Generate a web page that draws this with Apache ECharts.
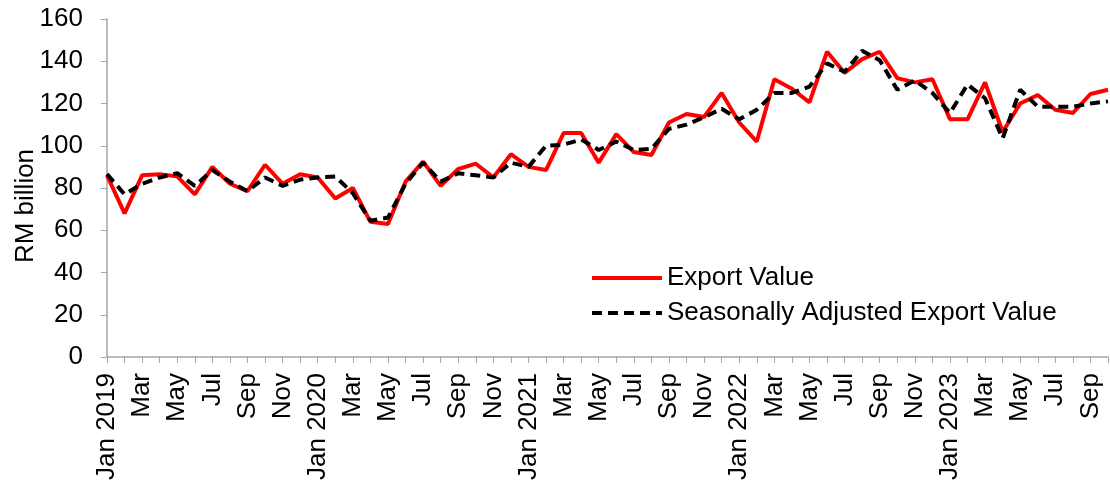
<!DOCTYPE html>
<html>
<head>
<meta charset="utf-8">
<script src="https://cdn.jsdelivr.net/npm/echarts@6/dist/echarts.min.js"></script>
<style>
  html, body { margin: 0; padding: 0; background: #fff; }
  #chart { width: 1110px; height: 483px; }
</style>
</head>
<body>
<div id="chart"></div>
<script>
// months Jan 2019 - Oct 2023
var monthNames = ['Jan', 'Feb', 'Mar', 'Apr', 'May', 'Jun', 'Jul', 'Aug', 'Sep', 'Oct', 'Nov', 'Dec'];
var years = [2019, 2020, 2021, 2022, 2023];
var months = [];
years.forEach(function (y) {
    monthNames.forEach(function (m) {
        months.push(m + ' ' + y);
    });
});
months = months.slice(0, 58);

var exportValue = [
    86, 68, 86, 86.5, 85.5, 77, 90, 82, 78.5, 91, 82, 86.5,
    85, 75, 80, 64, 63, 83, 92.5, 81, 89, 91.5, 85, 96,
    90, 88.5, 106, 106, 92, 105.5, 97, 95.6, 111, 115, 113.6, 125,
    111, 102, 131.5, 127, 120.5, 144.5, 134.5, 141, 144.5, 132, 130, 131.5,
    112.6, 112.5, 130, 106.5, 120, 124, 117, 115.5, 124.5, 126.5
];
var seasonallyAdjusted = [
    86.6, 77, 82, 85, 87, 81, 88.5, 83, 78.5, 85, 81, 84,
    85, 85.5, 77.5, 64.5, 66, 82, 92, 83, 87, 86, 85, 92,
    90, 100, 100.5, 103, 98, 102, 98, 98.5, 108, 110, 113.5, 117.5,
    112.5, 117, 125, 125, 128, 139, 135, 145, 140.5, 126.5, 131, 125,
    115.5, 129, 122.5, 103.5, 126.5, 118.5, 118.5, 118.5, 120, 121
];

var axisGray = '#a6a6a6';
var fontFam = 'Liberation Sans, Arial, sans-serif';
var fontSz = 26;

var chart = echarts.init(document.getElementById('chart'));
chart.setOption({
    animation: false,
    backgroundColor: '#fff',
    grid: {
        left: 107,
        right: 2,
        top: 19,
        bottom: 126,
        containLabel: false,
        outerBoundsMode: 'none'
    },
    legend: {
        orient: 'vertical',
        left: 585,
        top: 260,
        itemWidth: 70,
        itemHeight: 20,
        itemGap: 9,
        itemStyle: { color: 'transparent', borderWidth: 0 },
        lineStyle: { width: 4 },
        textStyle: {
            color: '#000',
            fontSize: fontSz,
            fontFamily: fontFam
        },
        data: ['Export Value', 'Seasonally Adjusted Export Value']
    },
    xAxis: {
        type: 'category',
        data: months,
        boundaryGap: false,
        axisLine: {
            lineStyle: { color: axisGray, width: 1.5 }
        },
        axisTick: {
            show: true,
            interval: 0,
            length: 6,
            lineStyle: { color: axisGray }
        },
        axisLabel: {
            interval: 1,
            rotate: 90,
            margin: 16,
            color: '#000',
            fontSize: fontSz,
            fontFamily: fontFam,
            formatter: function (v) {
                var parts = v.split(' ');
                return parts[0] === 'Jan' ? v : parts[0];
            }
        },
        splitLine: { show: false }
    },
    yAxis: {
        type: 'value',
        min: 0,
        max: 160,
        interval: 20,
        name: 'RM billion',
        nameLocation: 'middle',
        nameGap: 68,
        nameMoveOverlap: false,
        nameTextStyle: {
            color: '#000',
            fontSize: fontSz,
            fontFamily: fontFam,
            padding: [0, 36, 0, 0]
        },
        axisLine: {
            show: true,
            lineStyle: { color: axisGray, width: 1.5 }
        },
        axisTick: {
            show: true,
            length: 6,
            lineStyle: { color: axisGray }
        },
        axisLabel: {
            margin: 24,
            color: '#000',
            fontSize: fontSz,
            fontFamily: fontFam
        },
        splitLine: { show: false }
    },
    series: [
        {
            name: 'Export Value',
            type: 'line',
            data: exportValue,
            symbol: 'none',
            z: 2,
            lineStyle: { color: '#ff0000', width: 4 },
            itemStyle: { color: '#ff0000' }
        },
        {
            name: 'Seasonally Adjusted Export Value',
            type: 'line',
            data: seasonallyAdjusted,
            symbol: 'none',
            z: 3,
            lineStyle: { color: '#000', width: 4, type: [10, 6] },
            itemStyle: { color: '#000' }
        }
    ]
});
</script>
</body>
</html>
